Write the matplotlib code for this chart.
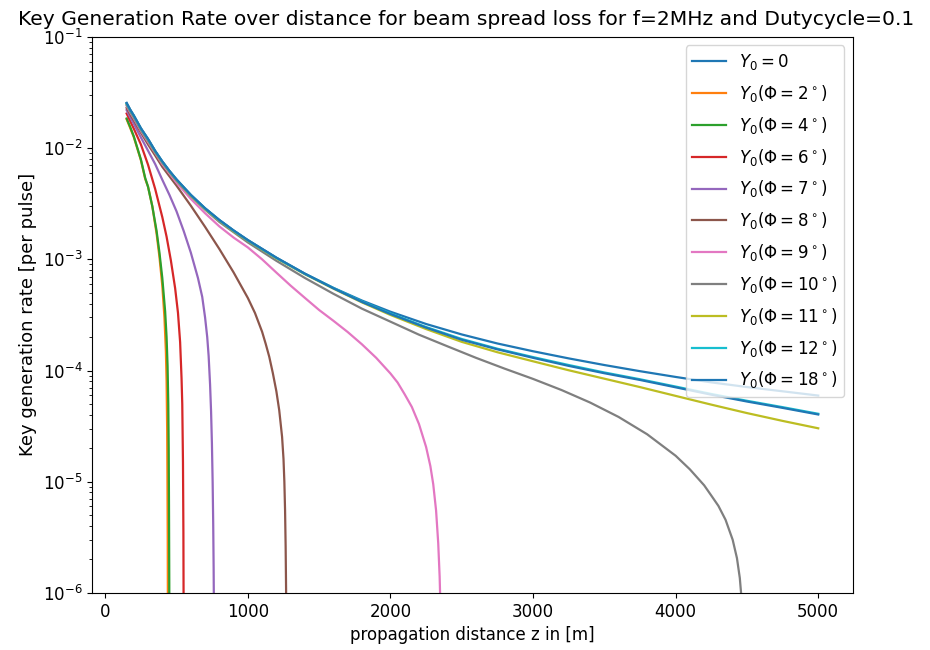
import matplotlib
matplotlib.use("Agg")
import matplotlib.pyplot as plt

# distances [m] and key rates per pulse
z_base = [150, 175, 200, 250, 300, 350, 400, 450, 500, 600, 700, 800, 900, 1000, 1200, 1400, 1600, 1800, 2000,
          2250, 2500, 2750, 3000, 3250, 3500, 3750, 4000, 4250, 4500, 4750, 5000]
k_phi0 = [0.0255, 0.0222, 0.0197, 0.0151, 0.0121, 0.00945, 0.0076, 0.00625, 0.00523, 0.0038, 0.00288, 0.00226, 0.00182,
          0.00149, 0.001035, 0.000743, 0.000554, 0.000426, 0.000338, 0.000262, 0.000211, 0.000175, 0.000149, 0.0001285,
          0.000112, 0.0000986, 0.0000875, 0.0000782, 0.0000710, 0.0000650, 0.0000595]
k_phi18 = [0.0255, 0.0222, 0.0197, 0.0151, 0.0121, 0.00945, 0.0076, 0.00625, 0.00523, 0.0038, 0.00288, 0.00226, 0.00182,
           0.00149, 0.001035, 0.000743, 0.000549, 0.000414, 0.000322, 0.000243, 0.000189, 0.000155, 0.000130, 0.000110,
           0.0000945, 0.0000822, 0.0000706, 0.0000606, 0.0000526, 0.0000461, 0.0000402]
k_phi12 = [0.0252, 0.0220, 0.0196, 0.0150, 0.0120, 0.0094, 0.00757, 0.00622, 0.00521, 0.00379, 0.00287, 0.00225, 0.00181,
           0.00148, 0.00103, 0.000740, 0.000552, 0.000418, 0.000326, 0.000246, 0.000192, 0.000157, 0.000132, 0.000112,
           0.0000960, 0.0000834, 0.0000717, 0.0000615, 0.0000534, 0.0000468, 0.0000408]
k_phi11 = [0.0250, 0.0219, 0.0194, 0.0149, 0.0119, 0.0093, 0.0075, 0.00616, 0.00515, 0.00374, 0.00284, 0.00223, 0.00179,
           0.00147, 0.00102, 0.000735, 0.000545, 0.000410, 0.000316, 0.000236, 0.000181, 0.000146, 0.000121, 0.0001005,
           0.0000844, 0.0000709, 0.0000591, 0.0000493, 0.0000414, 0.0000352, 0.0000302]

z_phi10 = [150, 175, 200, 250, 300, 350, 400, 450, 500, 600, 700, 800, 1000, 1200, 1400, 1600, 1800, 2000, 2200, 2400,
           2600, 2800, 3000, 3200, 3400, 3600, 3800, 4000, 4100, 4200, 4250, 4300, 4350, 4380, 4400, 4415, 4430, 4440,
           4450, 4455, 4460, 4464]
k_phi10 = [0.0245, 0.0214, 0.0190, 0.0146, 0.0117, 0.0092, 0.0074, 0.0061, 0.0051, 0.0037, 0.0028, 0.00217, 0.00142,
           0.00097, 0.00068, 0.00049, 0.00036, 0.000275, 0.000210, 0.000165, 0.000130, 0.000104, 0.000084, 0.0000667,
           0.0000515, 0.0000382, 0.0000267, 0.0000171, 0.0000129, 0.00000927, 0.0000075, 0.00000605, 0.00000454,
           0.00000354, 0.0000030, 0.00000248, 0.00000205, 0.00000167, 0.00000136, 0.00000114, 0.00000096, 0.00000063]

z_phi9 = [150, 175, 200, 250, 300, 400, 500, 600, 700, 800, 900, 1000, 1100, 1200, 1300, 1400, 1500, 1600, 1700, 1800,
          1900, 2000, 2050, 2100, 2150, 2200, 2250, 2280, 2300, 2320, 2335, 2345, 2350, 2354]
k_phi9 = [0.0240, 0.0210, 0.0186, 0.0143, 0.0114, 0.0072, 0.0049, 0.0035, 0.0026, 0.00198, 0.00157, 0.00128, 0.00100,
          0.00076, 0.00058, 0.00045, 0.00035, 0.00028, 0.000222, 0.000172, 0.000130, 0.000094, 0.000078, 0.000061,
          0.000047, 0.000033, 0.0000205, 0.0000138, 0.0000095, 0.0000055, 0.0000028, 0.0000014, 0.0000008, 0.0000004]

z_phi8 = [150, 175, 200, 250, 300, 350, 400, 450, 500, 600, 700, 800, 900, 1000, 1050, 1100, 1125, 1150, 1175, 1200,
          1220, 1240, 1250, 1256, 1261, 1265, 1268, 1270]
k_phi8 = [0.0230, 0.0201, 0.0178, 0.0138, 0.0108, 0.0086, 0.0068, 0.00559, 0.0046, 0.00304, 0.00196, 0.00124, 0.000763,
          0.000449, 0.000329, 0.000223, 0.000174, 0.000133, 0.000095, 0.000065, 0.0000439, 0.0000253, 0.0000160,
          0.0000100, 0.0000055, 0.0000026, 0.0000011, 0.0000004]

z_phi7 = [150, 175, 200, 250, 300, 350, 400, 450, 500, 550, 600, 650, 680, 700, 715, 725, 735, 742, 748, 753, 757, 760,
          762, 764]
k_phi7 = [0.0220, 0.0190, 0.0166, 0.0125, 0.0095, 0.0072, 0.0052, 0.0038, 0.0027, 0.0018, 0.00115, 0.00068, 0.00046,
          0.00030, 0.00020, 0.000135, 0.000075, 0.000043, 0.000022, 0.0000100, 0.0000042, 0.0000017, 0.0000007, 0.0000003]

z_phi6 = [150, 175, 200, 250, 300, 350, 400, 430, 460, 490, 510, 525, 535, 540, 545, 548, 550]
k_phi6 = [0.0205, 0.0175, 0.0150, 0.0108, 0.0071, 0.0043, 0.0024, 0.0016, 0.00098, 0.00055, 0.00033, 0.00018, 0.000085,
          0.000050, 0.000015, 0.0000035, 0.0000004]

z_phi4 = [150, 175, 200, 250, 280, 300, 330, 360, 380, 400, 420, 430, 437, 442, 445, 447, 449, 450]
k_phi4 = [0.0185, 0.0155, 0.0128, 0.0079, 0.0054, 0.0045, 0.0030, 0.0018, 0.00115, 0.00068, 0.00034, 0.00020, 0.000110,
          0.000050, 0.000020, 0.0000060, 0.0000012, 0.0000003]

z_phi2 = [150, 175, 200, 250, 280, 300, 330, 360, 380, 400, 415, 425, 430, 434, 436, 438, 439, 440]
k_phi2 = [0.0182, 0.0152, 0.0126, 0.0078, 0.0053, 0.0045, 0.0030, 0.0017, 0.00105, 0.00058, 0.00030, 0.000150, 0.000080,
          0.000030, 0.0000110, 0.0000030, 0.0000008, 0.0000003]

labels = [r"$Y_0 = 0$"] + [r"$Y_0(\Phi = %d^\circ)$" % p for p in [2, 4, 6, 7, 8, 9, 10, 11, 12, 18]]
series = [
    (z_base, k_phi0), (z_phi2, k_phi2), (z_phi4, k_phi4), (z_phi6, k_phi6),
    (z_phi7, k_phi7), (z_phi8, k_phi8), (z_phi9, k_phi9), (z_phi10, k_phi10),
    (z_base, k_phi11), (z_base, k_phi12), (z_base, k_phi18),
]

fig = plt.figure(figsize=(9.3, 6.5), dpi=100)
for (z, k), lab in zip(series, labels):
    plt.plot(z, k, label=lab, linewidth=1.6)
plt.yscale("log")
plt.ylim(1e-6, 1e-1)
plt.xlabel("propagation distance z in [m]", fontsize=12)
plt.ylabel("Key generation rate [per pulse]", fontsize=13)
plt.title("Key Generation Rate over distance for beam spread loss for f=2MHz and Dutycycle=0.1",
          fontsize=14.6, x=0.492, pad=9)
plt.xticks(fontsize=12)
plt.yticks(fontsize=12)
plt.legend(loc="upper right", fontsize=12, labelspacing=0.65)
plt.subplots_adjust(left=0.099, right=0.917, top=0.943, bottom=0.088)
plt.savefig("out.png")
